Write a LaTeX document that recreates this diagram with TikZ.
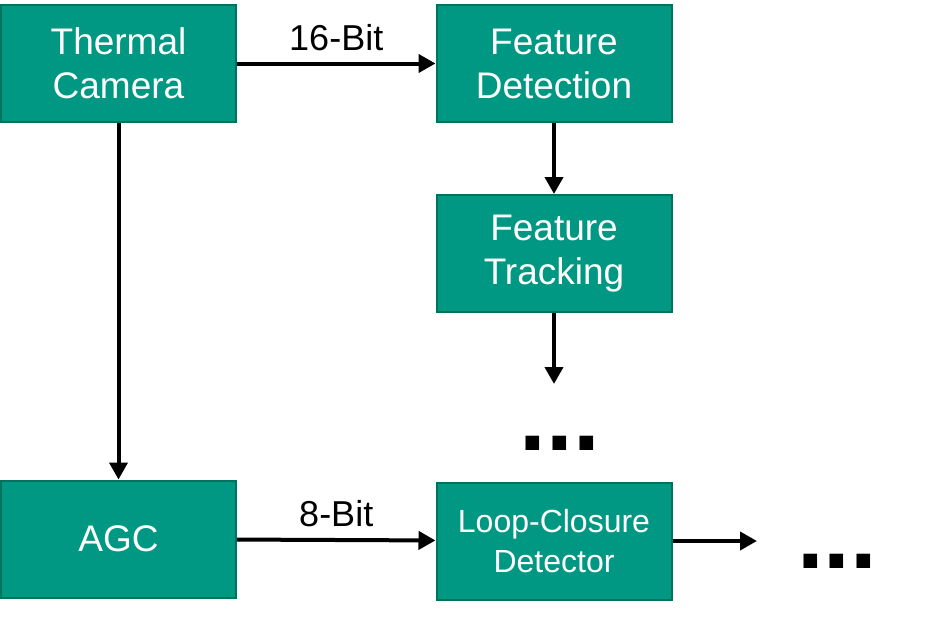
\documentclass[tikz,border=0pt]{standalone}
\usepackage{fontspec}
\setmainfont{Liberation Sans}
\usetikzlibrary{arrows.meta}
\definecolor{boxteal}{HTML}{009882}
\definecolor{boxedge}{HTML}{00735F}
\newcommand{\blocklabel}[2]{#1 \\ #2}

\begin{document}
\begin{tikzpicture}[x = 1pt, y = -1pt, every node/.style = {inner sep = 0pt},
    block/.style = {rectangle, draw = boxedge, line width = 2pt, fill = boxteal, text = white, minimum width = 235pt, minimum height = 117pt, align = center, font = \fontsize{37}{44}\selectfont},
    flow/.style = {line width = 4pt, -{Triangle[length = 17pt, width = 18pt]}},
    bits/.style = {font = \fontsize{36}{36}\selectfont},
    more/.style = {font = \fontsize{96}{96}\bfseries}]

	\useasboundingbox (0, 0) rectangle (929, 637);

	\node (TC)  at (118.5,  63.5) [block] {\blocklabel{Thermal}{Camera}};
	\node (FD)  at (554,    63.5) [block] {\blocklabel{Feature}{Detection}};
	\node (FT)  at (554,   253.5) [block] {\blocklabel{Feature}{Tracking}};
	\node (AGC) at (118.5, 539)   [block] {AGC};
	\node (LCD) at (554,   541)   [block, font = \fontsize{32}{40}\selectfont] {\blocklabel{Loop-Closure}{Detector}};
	\node (M1)  at (560,   443)   [more] {...};
	\node (M2)  at (837,   561)   [more] {...};
	\coordinate (FTout)  at (554, 384);
	\coordinate (LCDout) at (757, 541);

    \path (TC) edge [flow] node[bits, above = 11pt] {16-Bit} (FD);
    \path (AGC) edge [flow] node[bits, above = 11pt] {8-Bit} (LCD);
    \foreach \from/\to in {TC/AGC, FD/FT, FT/FTout, LCD/LCDout}
    	\path (\from) edge [flow] (\to);

\end{tikzpicture}
\end{document}
